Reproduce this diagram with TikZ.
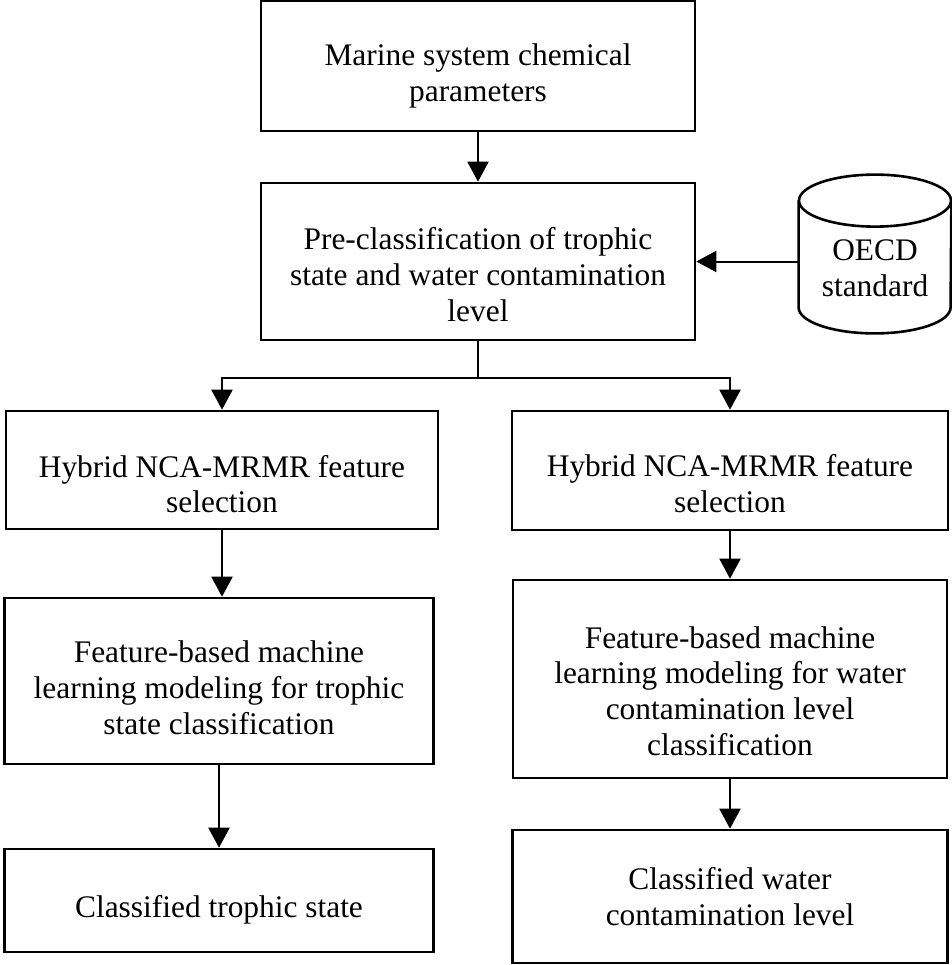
\documentclass[tikz,border=0pt]{standalone}
\usepackage{fontspec}
\setmainfont{Liberation Serif}
\usetikzlibrary{arrows.meta,calc}
\begin{document}
\begin{tikzpicture}[x=0.5pt,y=0.5pt,
  box/.style={draw,line width=1.3pt,inner sep=0pt},
  txt/.style={align=center,inner sep=0pt,
    font=\fontsize{15.7pt}{17.9pt}\selectfont},
  conn/.style={line width=1pt,-{Triangle[length=10pt,width=10.5pt]}},
  plain/.style={line width=1pt}]
\useasboundingbox (0,0) rectangle (952,-965);
\node[box,minimum width=217pt,minimum height=65pt] (A) at (478,-66) {};
\node[txt] (At) at ($(A)+(0,-10)$) {Marine system chemical\\parameters};
\node[box,minimum width=217pt,minimum height=78.5pt] (B) at (478,-261.5) {};
\node[txt] (Bt) at ($(B)+(0,-13)$) {Pre-classification of trophic\\state and water contamination\\level};
\node[inner sep=0pt,minimum width=76pt,minimum height=79pt] (C) at (875,-254) {};
\node[txt] (Ct) at ($(C)+(0,-14)$) {OECD\\standard};
\draw[line width=1.3pt] ($(C.north west)+(0,-26)$) -- ($(C.south west)+(0,26)$)
  arc[start angle=180,end angle=360,x radius=38pt,y radius=13pt]
  -- ($(C.north east)+(0,-26)$);
\draw[line width=1.3pt] ($(C.north)+(0,-26)$) ellipse[x radius=38pt,y radius=13pt];
\node[box,minimum width=216pt,minimum height=59pt] (L1) at (222,-470) {};
\node[txt] (L1t) at ($(L1)+(0,-14)$) {Hybrid NCA-MRMR feature\\selection};
\node[box,minimum width=218pt,minimum height=59.5pt] (R1) at (730,-470.5) {};
\node[txt] (R1t) at ($(R1)+(0,-13)$) {Hybrid NCA-MRMR feature\\selection};
\node[box,minimum width=214.5pt,minimum height=83pt] (L2) at (219,-681) {};
\node[txt] (L2t) at ($(L2)+(0,-7)$) {Feature-based machine\\learning modeling for trophic\\state classification};
\node[box,minimum width=217pt,minimum height=99pt] (R2) at (730,-679) {};
\node[txt] (R2t) at ($(R2)+(0,-12)$) {Feature-based machine\\learning modeling for water\\contamination level\\classification};
\node[box,minimum width=214.5pt,minimum height=51.5pt] (L3) at (219,-900.5) {};
\node[txt] (L3t) at ($(L3)+(0,-9)$) {Classified trophic state};
\node[box,minimum width=217.5pt,minimum height=66.5pt] (R3) at (730,-896.5) {};
\node[txt] (R3t) at ($(R3)+(0,0)$) {Classified water\\contamination level};
\coordinate (split) at (478,-378);
\draw[conn] (A) -- (B);
\draw[conn] (C.west |- B.east) -- (B.east);
\draw[plain] (B.south) -- (split);
\draw[conn] (split) -| (L1.north);
\draw[conn] (split) -| (R1.north);
\draw[conn] (L1.south) -- (L1.south |- L2.north);
\draw[conn] (R1) -- (R2);
\draw[conn] (L2) -- (L3);
\draw[conn] (R2) -- (R3);
\end{tikzpicture}
\end{document}
